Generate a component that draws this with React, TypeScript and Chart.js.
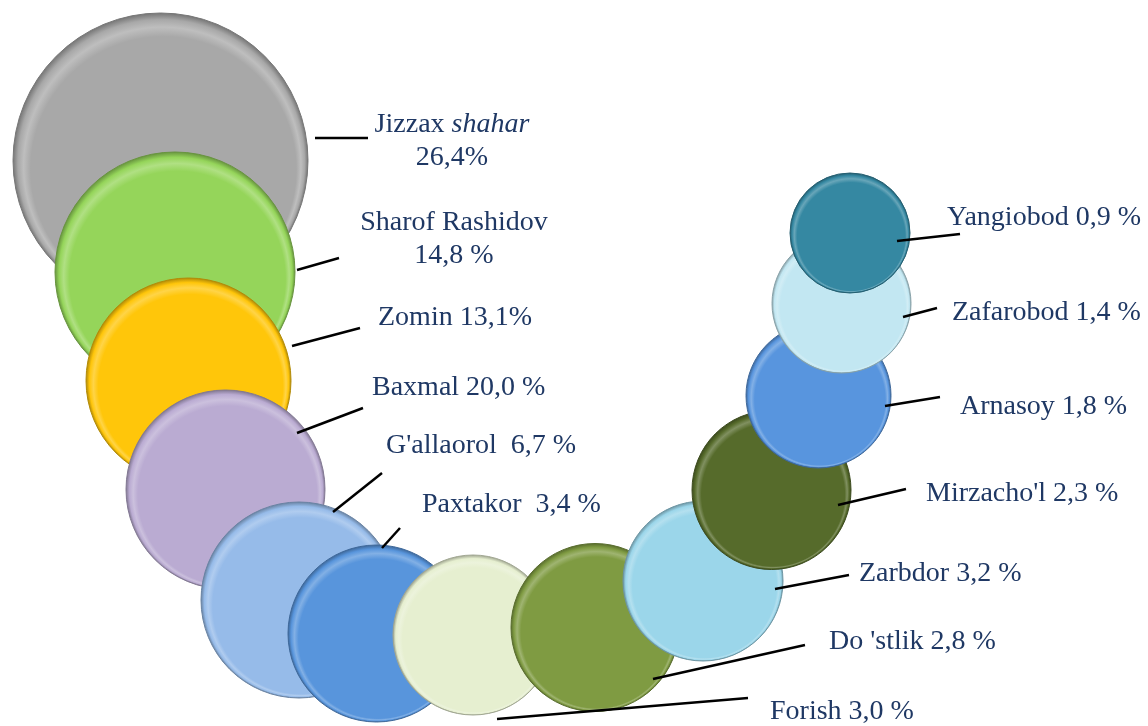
import { useEffect, useRef } from "react";
import { Chart, registerables } from "chart.js";

Chart.register(...registerables);

// ---- data ----
const districts = [
  "Jizzax shahar",
  "Sharof Rashidov",
  "Zomin",
  "Baxmal",
  "G'allaorol",
  "Paxtakor",
  "Forish",
  "Do 'stlik",
  "Zarbdor",
  "Mirzacho'l",
  "Arnasoy",
  "Zafarobod",
  "Yangiobod",
];
const shares = [26.4, 14.8, 13.1, 20.0, 6.7, 3.4, 3.0, 2.8, 3.2, 2.3, 1.8, 1.4, 0.9];
// bubble positions (chart units) and bubble sizes
const bubbleX = [16.05, 17.5, 18.85, 22.55, 29.9, 37.65, 47.3, 59.5, 70.3, 77.15, 81.85, 84.15, 85.0];
const bubbleY = [56.55, 45.4, 34.55, 23.65, 12.6, 9.25, 9.1, 9.85, 14.5, 23.6, 33.05, 42.25, 49.3];
const bubbleSize = [147.5, 120, 102.5, 99.5, 98, 88.5, 80, 84, 80, 79.5, 72.5, 69.5, 60];
const colors = [
  "#A8A8A8",
  "#95D55A",
  "#FFC60A",
  "#BAABD2",
  "#96BBE9",
  "#5895DC",
  "#E6EFD0",
  "#7F9B42",
  "#9BD6EA",
  "#566B2B",
  "#5895DE",
  "#C2E7F2",
  "#3588A2",
];
const italicWords = ["shahar"];

// ---- label text formatting ----
const nameSep = ["\n", "\n", " ", " ", "  ", "  ", " ", " ", " ", " ", " ", " ", " "];
const pctSep = ["", " ", "", " ", " ", " ", " ", " ", " ", " ", " ", " ", " "];

// ---- label layout (chart units) ----
const lineStartX = [31.5, 29.7, 29.2, 29.7, 33.3, 38.2, 49.7, 65.3, 77.5, 83.8, 88.5, 90.3, 89.7];
const lineStartY = [58.8, 45.6, 38.0, 29.3, 21.4, 17.8, 0.7, 4.7, 13.7, 22.1, 32.0, 40.9, 48.5];
const lineEndX = [36.8, 33.9, 36.0, 36.3, 38.2, 40.0, 74.8, 80.5, 84.9, 90.6, 94.0, 93.7, 96.0];
const lineEndY = [58.8, 46.8, 39.8, 31.8, 25.3, 19.8, 2.8, 8.1, 15.1, 23.7, 32.9, 41.8, 49.2];
const textX = [45.2, 45.4, 37.8, 37.2, 38.6, 42.2, 77.0, 82.9, 85.9, 92.6, 96.0, 95.2, 94.7];
const textY = [59.4, 49.6, 40.1, 33.1, 27.3, 21.4, 0.7, 7.7, 14.5, 22.5, 31.2, 40.6, 50.1];
const textAlign = ["center", "center", "left", "left", "left", "left", "left", "left", "left", "left", "left", "left", "left"];

const FONT_FAMILY = '"Liberation Serif", "Times New Roman", serif';
const FONT_SIZE = 28;
const LINE_HEIGHT = 33;
const TEXT_COLOR = "#1F3864";

function hexToRgb(h: string) {
  const n = parseInt(h.slice(1), 16);
  return [(n >> 16) & 255, (n >> 8) & 255, n & 255];
}
function mix(h: string, target: number, t: number) {
  const [r, g, b] = hexToRgb(h);
  const m = (c: number) => Math.round(c + (target - c) * t);
  return `rgb(${m(r)},${m(g)},${m(b)})`;
}

function labelText(i: number) {
  const v = shares[i].toFixed(1).replace(".", ",");
  return districts[i] + nameSep[i] + v + pctSep[i] + "%";
}

const labelPlugin = {
  id: "bubbleLabels",
  afterDatasetsDraw(chart: any) {
    const { ctx } = chart;
    const xs = chart.scales.x;
    const ys = chart.scales.y;
    ctx.save();
    ctx.strokeStyle = "#000";
    ctx.lineWidth = 2.5;
    for (let i = 0; i < districts.length; i++) {
      ctx.beginPath();
      ctx.moveTo(xs.getPixelForValue(lineStartX[i]), ys.getPixelForValue(lineStartY[i]));
      ctx.lineTo(xs.getPixelForValue(lineEndX[i]), ys.getPixelForValue(lineEndY[i]));
      ctx.stroke();
    }
    ctx.fillStyle = TEXT_COLOR;
    ctx.textBaseline = "alphabetic";
    ctx.textAlign = "left";
    const normal = `${FONT_SIZE}px ${FONT_FAMILY}`;
    const italic = `italic ${FONT_SIZE}px ${FONT_FAMILY}`;
    for (let i = 0; i < districts.length; i++) {
      const lines = labelText(i).split("\n");
      const px = xs.getPixelForValue(textX[i]);
      const py = ys.getPixelForValue(textY[i]);
      lines.forEach((line, li) => {
        const tokens = line.split(/(\s+)/);
        const runs = tokens.map((t) => ({ t, it: italicWords.includes(t) }));
        let w = 0;
        runs.forEach((r) => {
          ctx.font = r.it ? italic : normal;
          w += ctx.measureText(r.t).width;
        });
        let x = textAlign[i] === "center" ? px - w / 2 : px;
        const y = py + li * LINE_HEIGHT;
        runs.forEach((r) => {
          ctx.font = r.it ? italic : normal;
          ctx.fillText(r.t, x, y);
          x += ctx.measureText(r.t).width;
        });
      });
    }
    ctx.restore();
  },
};

export default function App() {
  const ref = useRef<HTMLCanvasElement | null>(null);
  useEffect(() => {
    if (!ref.current) return;
    const chart = new Chart(ref.current, {
      type: "bubble",
      data: {
        datasets: [
          {
            label: "Ulush",
            data: bubbleX.map((x, i) => ({ x, y: bubbleY[i], r: bubbleSize[i] })),
            clip: false as any,
            borderWidth: 1,
            borderColor: colors.map((c) => mix(c, 0, 0.3)),
            backgroundColor: (c: any) => {
              const i = c.dataIndex;
              const base = colors[i] ?? "#cccccc";
              const chart = c.chart;
              const xs = chart.scales?.x;
              const ys = chart.scales?.y;
              if (i === undefined || !xs || !ys) return base;
              const cx = xs.getPixelForValue(bubbleX[i]);
              const cy = ys.getPixelForValue(bubbleY[i]);
              const r = bubbleSize[i];
              if (!Number.isFinite(cx) || !Number.isFinite(cy) || !Number.isFinite(r)) return base;
              const g = chart.ctx.createRadialGradient(cx + 0.02 * r, cy + 0.06 * r, 0.9 * r, cx, cy, r);
              g.addColorStop(0, base);
              g.addColorStop(0.4, mix(base, 255, 0.25));
              g.addColorStop(0.72, base);
              g.addColorStop(1, mix(base, 0, 0.3));
              return g;
            },
          } as any,
        ],
      },
      options: {
        animation: false,
        responsive: false,
        events: [],
        layout: { padding: 0, autoPadding: false },
        scales: {
          x: { type: "linear", min: 0, max: 114.8, display: false },
          y: { type: "linear", min: 0, max: 72.6, display: false },
        },
        plugins: {
          legend: { display: false },
          tooltip: { enabled: false },
        },
      },
      plugins: [labelPlugin],
    });
    return () => chart.destroy();
  }, []);
  return (
    <div style={{ position: "absolute", left: 0, top: 0, width: 1148, height: 726, background: "#fff" }}>
      <canvas ref={ref} width={1148} height={726} />
    </div>
  );
}
